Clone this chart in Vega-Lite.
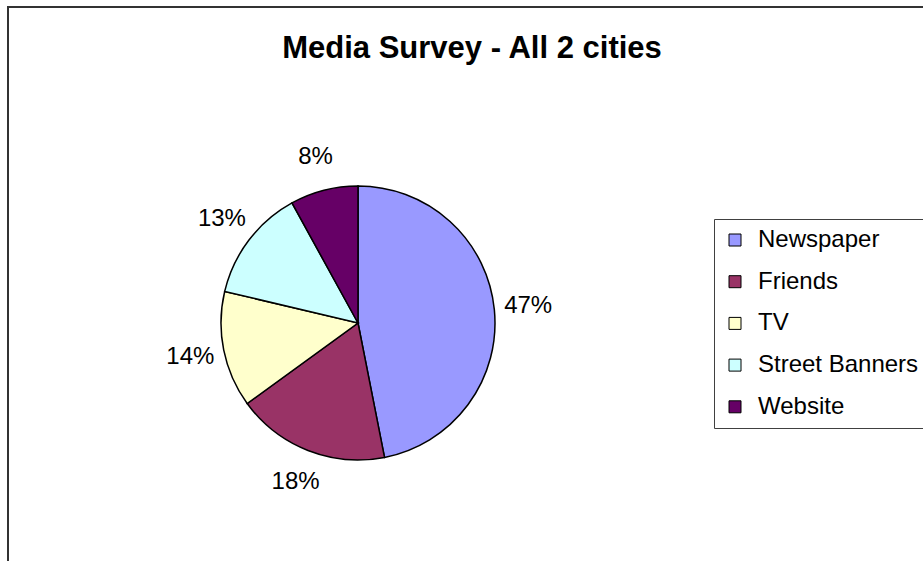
{
  "$schema": "https://vega.github.io/schema/vega-lite/v6.json",
  "width": 928,
  "height": 600,
  "autosize": "none",
  "padding": {"left": 8, "top": 7, "right": 0, "bottom": 0},
  "background": "white",
  "view": {"stroke": "#333333", "strokeWidth": 2, "fill": "white"},
  "title": {
    "text": "Media Survey - All 2 cities",
    "anchor": "middle",
    "frame": "group",
    "orient": "top",
    "offset": 0,
    "baseline": "alphabetic",
    "dy": 82,
    "font": "Liberation Sans",
    "fontSize": 31,
    "fontWeight": "bold",
    "color": "#000000"
  },
  "data": {
    "values": [
      {"source": "Newspaper", "share": 0.469},
      {"source": "Friends", "share": 0.181},
      {"source": "TV", "share": 0.137},
      {"source": "Street Banners", "share": 0.133},
      {"source": "Website", "share": 0.080}
    ]
  },
  "encoding": {
    "theta": {"field": "share", "type": "quantitative", "stack": true},
    "order": {"field": "share", "type": "quantitative", "sort": "descending"}
  },
  "layer": [
    {
      "mark": {"type": "arc", "x": 350, "y": 316, "outerRadius": 137, "stroke": "#000000", "strokeWidth": 1.5},
      "encoding": {
        "color": {
          "field": "source",
          "type": "nominal",
          "sort": null,
          "scale": {
            "domain": ["Newspaper", "Friends", "TV", "Street Banners", "Website"],
            "range": ["#9999FF", "#993366", "#FFFFCC", "#CCFFFF", "#660066"]
          },
          "legend": {
            "title": null,
            "orient": "none",
            "legendX": 706,
            "legendY": 212,
            "direction": "vertical",
            "symbolType": "square",
            "symbolSize": 144,
            "symbolStrokeColor": "#000000",
            "symbolStrokeWidth": 1,
            "labelFont": "Liberation Sans",
            "labelFontSize": 24,
            "labelColor": "#000000",
            "labelOffset": 11,
            "labelLimit": 400,
            "rowPadding": 17.7,
            "padding": 9,
            "strokeColor": "#404040",
            "fillColor": "#FFFFFF"
          }
        }
      }
    },
    {
      "mark": {"type": "text", "x": 350, "y": 316, "radius": 171, "font": "Liberation Sans", "fontSize": 24, "color": "#000000", "align": "center", "baseline": "middle"},
      "encoding": {
        "text": {"field": "share", "type": "quantitative", "format": ".0%"}
      }
    }
  ]
}
